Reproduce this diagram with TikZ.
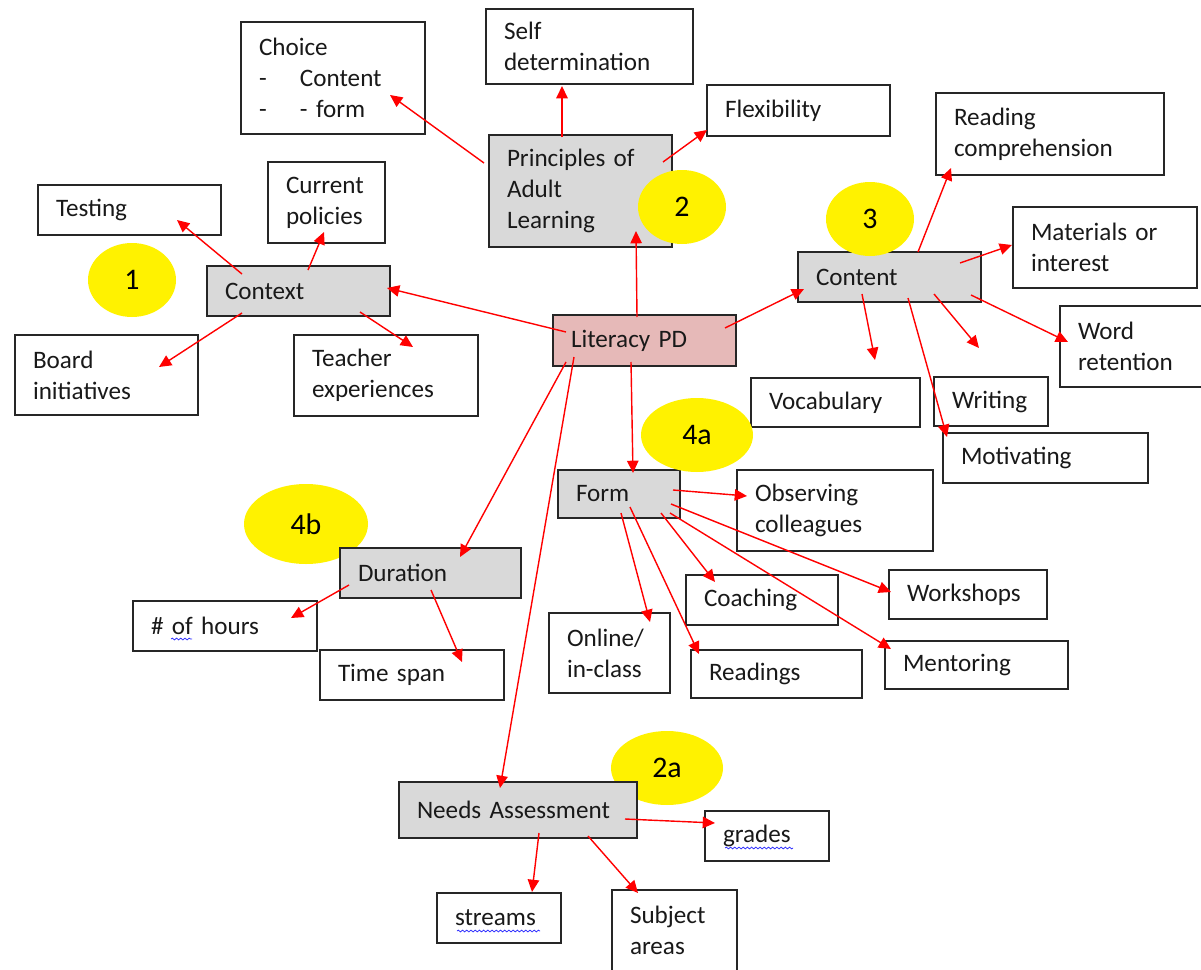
\documentclass[tikz,border=0pt]{standalone}
\usepackage{fontspec}
\setmainfont{Carlito}
\usetikzlibrary{arrows.meta,shapes.geometric,decorations.pathmorphing}
\definecolor{boxgrey}{RGB}{217,217,217}
\definecolor{pdpink}{RGB}{230,185,184}

\begin{document}
\begin{tikzpicture}[x=0.02cm,y=-0.02cm,
  box/.style 2 args={shape=rectangle, draw=black!85, line width=0.9pt, fill=white, text=black!90,
    inner xsep=0.36cm, inner ysep=0pt, align=left,
    minimum width=#1*0.02cm, minimum height=#2*0.02cm, text width=(#1-36)*0.02cm,
    font=\fontsize{14.3}{17.6}\selectfont},
  topic/.style={fill=boxgrey},
  core/.style={fill=pdpink},
  blob/.style 2 args={shape=ellipse, fill=yellow, inner sep=0pt, text=black,
    minimum width=#1*0.02cm, minimum height=#2*0.02cm, font=\fontsize{17}{20}\selectfont},
  arr/.style={draw=red, line width=0.8pt, -{Triangle[length=7pt,width=6.5pt]}},
  spell/.style={draw=blue!80, line width=0.45pt, decorate,
    decoration={snake, amplitude=0.5pt, segment length=2.4pt}}]

\path[fill=white,use as bounding box] (0,0) rectangle (1201,970);

% numbers behind the boxes
\path (306,524) node (c4b) [blob={124}{80}] {4b};
\path (667,768) node (c2a) [blob={112}{74}] {2a};

\path (333,78) node (choice) [box={184}{112}] {Choice\\\makebox[0.82cm][l]{-}Content\\\makebox[0.82cm][l]{-}- form};
\path (589.5,46.5) node (selfdet) [box={207}{75}] {Self\\determination};
\path (580.5,191) node (princ) [box={183}{112}, topic] {Principles of\\Adult\\Learning};
\path (798.5,110.5) node (flex) [box={183}{51}] {Flexibility};
\path (1050,134) node (readc) [box={228}{82}] {Reading\\comprehension};
\path (326.5,202.5) node (policies) [box={117}{81}] {Current\\policies};
\path (129.5,210) node (testing) [box={183}{50}] {Testing};
\path (298.5,291) node (context) [box={183}{50}, topic] {Context};
\path (1105,247.5) node (materials) [box={184}{81}] {Materials or\\interest};
\path (889.5,277) node (content) [box={183}{50}, topic] {Content};
\path (644.5,340.5) node (litpd) [box={183}{51}, core] {Literacy PD};
\path (106.5,375) node (board) [box={183}{80}] {Board\\initiatives};
\path (386,375.5) node (teacher) [box={184}{81}] {Teacher\\experiences};
\path (1152,346.5) node (wordret) [box={184}{81}] {Word\\retention};
\path (835.5,402.5) node (vocab) [box={169}{49}] {Vocabulary};
\path (991,401.5) node (writing) [box={114}{49}] {Writing};
\path (1045.5,458) node (motiv) [box={205}{50}] {Motivating};
\path (619,494) node (form) [box={122}{48}, topic] {Form};
\path (835,510.5) node (observ) [box={196}{81}] {Observing\\colleagues};
\path (430.5,573) node (duration) [box={181}{50}, topic] {Duration};
\path (225,626) node (hours) [box={184}{50}] {\# of hours};
\path (762,600) node (coaching) [box={152}{50}] {Coaching};
\path (968,594.5) node (workshops) [box={158}{49}] {Workshops};
\path (609.5,653) node (online) [box={121}{80}] {Online/\\in-class};
\path (412,675) node (timespan) [box={184}{50}] {Time span};
\path (776.5,674) node (readings) [box={171}{48}] {Readings};
\path (976.5,665) node (mentoring) [box={183}{48}] {Mentoring};
\path (518,810) node (needs) [box={238}{56}, topic] {Needs Assessment};
\path (767,836) node (grades) [box={124}{50}] {grades};
\path (499,918) node (streams) [box={124}{50}] {streams};
\path (674.5,930.5) node (subject) [box={125}{81}] {Subject\\areas};

% spelling marks
\draw[spell] (171,639) -- (192,639);
\draw[spell] (457,931) -- (540,931);
\draw[spell] (725,848) -- (793,848);

\path (132,280) node (c1) [blob={88}{74}] {1};
\path (682,207) node (c2) [blob={88}{74}] {2};
\path (870,219) node (c3) [blob={88}{74}] {3};
\path (697,435) node (c4a) [blob={112}{74}] {4a};

\coordinate (vocabtip) at (875,360);
\coordinate (writetip) at (979,348);

\draw[arr] ([shift={(-78.5,-8.5)}]litpd.center) -- ([shift={(88.5,-3)}]context.center);
\draw[arr] ([shift={(-7.5,-23.5)}]litpd.center) -- ([shift={(55.5,40)}]princ.center);
\draw[arr] ([shift={(80.5,-12.5)}]litpd.center) -- ([shift={(-85.5,12)}]content.center);
\draw[arr] ([shift={(-13.5,21.5)}]litpd.center) -- ([shift={(14,-21)}]form.center);
\draw[arr] ([shift={(-78.5,21.5)}]litpd.center) -- ([shift={(29.5,-16)}]duration.center);
\draw[arr] ([shift={(-70.5,16.5)}]litpd.center) -- ([shift={(-18,-22)}]needs.center);

\draw[arr] ([shift={(-96.5,-28)}]princ.center) -- ([shift={(57,17)}]choice.center);
\draw[arr] ([shift={(-18.5,-54)}]princ.center) -- ([shift={(-27.5,39.5)}]selfdet.center);
\draw[arr] ([shift={(82.5,-29)}]princ.center) -- ([shift={(-91.5,19.5)}]flex.center);

\draw[arr] ([shift={(-56.5,-17)}]context.center) -- ([shift={(47.5,10)}]testing.center);
\draw[arr] ([shift={(9.5,-21)}]context.center) -- ([shift={(-2.5,29.5)}]policies.center);
\draw[arr] ([shift={(-56.5,22)}]context.center) -- ([shift={(52.5,-8)}]board.center);
\draw[arr] ([shift={(61.5,21)}]context.center) -- ([shift={(27,-28.5)}]teacher.center);

\draw[arr] ([shift={(28.5,-25)}]content.center) -- ([shift={(-99,34)}]readc.center);
\draw[arr] ([shift={(70.5,-14)}]content.center) -- ([shift={(-93,-2.5)}]materials.center);
\draw[arr] ([shift={(81.5,18)}]content.center) -- ([shift={(-84,-4.5)}]wordret.center);
\draw[arr] ([shift={(-27.5,17)}]content.center) -- (vocabtip);
\draw[arr] ([shift={(44.5,17)}]content.center) -- (writetip);
\draw[arr] ([shift={(18.5,21)}]content.center) -- ([shift={(-98.5,-21)}]motiv.center);

\draw[arr] ([shift={(54,-4)}]form.center) -- ([shift={(-88,-14.5)}]observ.center);
\draw[arr] ([shift={(52,10)}]form.center) -- ([shift={(-77,-2.5)}]workshops.center);
\draw[arr] ([shift={(51,19)}]form.center) -- ([shift={(-85.5,-16)}]mentoring.center);
\draw[arr] ([shift={(42,19)}]form.center) -- ([shift={(-47,-18)}]coaching.center);
\draw[arr] ([shift={(11,13)}]form.center) -- ([shift={(-77.5,-20)}]readings.center);
\draw[arr] ([shift={(2,19)}]form.center) -- ([shift={(40.5,-31)}]online.center);

\draw[arr] ([shift={(-81.5,12)}]duration.center) -- ([shift={(66,-8)}]hours.center);
\draw[arr] ([shift={(0.5,17)}]duration.center) -- ([shift={(50,-13)}]timespan.center);

\draw[arr] ([shift={(107,9)}]needs.center) -- ([shift={(-52,-13)}]grades.center);
\draw[arr] ([shift={(21,23)}]needs.center) -- ([shift={(33,-26)}]streams.center);
\draw[arr] ([shift={(70,26)}]needs.center) -- ([shift={(-36.5,-37.5)}]subject.center);

\end{tikzpicture}
\end{document}
